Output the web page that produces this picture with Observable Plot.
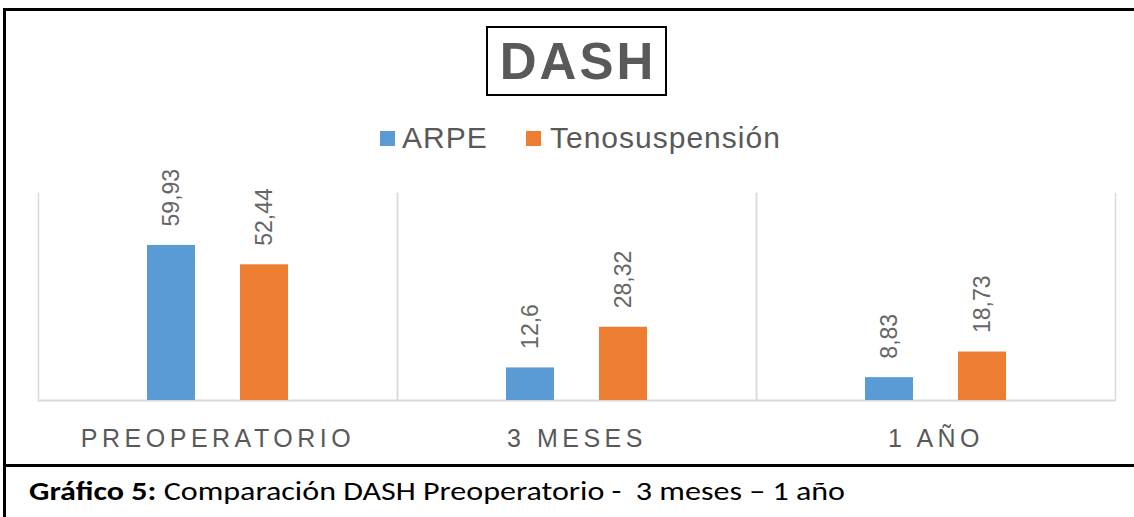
<!DOCTYPE html>
<html>
<head>
<meta charset="utf-8">
<script src="https://cdn.jsdelivr.net/npm/d3@7"></script>
<script src="https://cdn.jsdelivr.net/npm/@observablehq/plot@0.6"></script>
<style>
  html, body { margin: 0; padding: 0; background: #fff; }
  #wrap { position: relative; width: 1134px; height: 517px; overflow: hidden; background: #fff; font-family: "Liberation Sans", Arial, sans-serif; }
  #frameBox { position: absolute; left: 3px; top: 8px; width: 1140px; height: 520px; border-left: 3px solid #000; border-top: 3px solid #000; box-sizing: border-box; }
  #sep { position: absolute; left: 3px; top: 464px; width: 1140px; height: 3px; background: #000; }
  #title { position: absolute; left: 486px; top: 26px; width: 181px; height: 70px; border: 2px solid #000; box-sizing: border-box;
           text-align: center; font-weight: bold; font-size: 51px; line-height: 66px; padding-top: 1px; padding-left: 3px; letter-spacing: 3px; color: #595959; }
  .sw { position: absolute; width: 15px; height: 15px; top: 131px; }
  .lg { position: absolute; font-size: 30px; line-height: 30px; top: 123px; color: #595959; white-space: nowrap; letter-spacing: 1px; }
  #chart { position: absolute; left: 0; top: 180px; }
  #caption { position: absolute; left: 29px; top: 477px; font-size: 27px; line-height: 27px; color: #000; white-space: nowrap;
             font-family: Carlito, Lato, "Open Sans", sans-serif; transform-origin: 0 0; }
  #chart svg [aria-label^="fx-axis"] text { letter-spacing: 4.5px; }
</style>
</head>
<body>
<div id="wrap">
  <div id="frameBox"></div>
  <div id="title">DASH</div>
  <div id="legend"></div>
  <div id="chart"></div>
  <div id="sep"></div>
  <div id="caption"><b>Gráfico 5:</b> Comparación DASH Preoperatorio -&nbsp; 3 meses – 1 año</div>
</div>
<script>
const categories = ["PREOPERATORIO", "3 MESES", "1 AÑO"];
const series = ["ARPE", "Tenosuspensión"];
const arpeValues = [59.93, 12.6, 8.83];
const tenoValues = [52.44, 28.32, 18.73];
const colors = ["#5B9BD5", "#ED7D31"];

const data = categories.flatMap((c, i) => [
  {cat: c, serie: series[0], value: arpeValues[i]},
  {cat: c, serie: series[1], value: tenoValues[i]}
]);
const fmt = v => String(v).replace(".", ",");

// legend
const legend = document.getElementById("legend");
const legendPos = [{sw: 380, tx: 402}, {sw: 526, tx: 550}];
series.forEach((s, i) => {
  const sw = document.createElement("div");
  sw.className = "sw"; sw.style.left = legendPos[i].sw + "px"; sw.style.background = colors[i];
  legend.appendChild(sw);
  const t = document.createElement("div");
  t.className = "lg"; t.style.left = legendPos[i].tx + "px"; t.textContent = s;
  legend.appendChild(t);
});

const chart = Plot.plot({
  width: 1134,
  height: 280,
  marginTop: 13,
  marginBottom: 60,
  marginLeft: 37,
  marginRight: 19,
  style: {fontFamily: "'Liberation Sans', Arial, sans-serif", fontSize: "25px", color: "#595959", background: "transparent", overflow: "visible"},
  fx: {domain: categories, padding: 0, label: null, axis: "bottom", tickSize: 0, tickPadding: 29},
  x: {domain: series, paddingInner: 0.484, paddingOuter: 1.172, axis: null},
  y: {domain: [0, 80], axis: null},
  color: {domain: series, range: colors},
  marks: [
    Plot.frame({anchor: "left", stroke: "#d9d9d9", strokeWidth: 1.5}),
    Plot.frame({anchor: "right", stroke: "#d9d9d9", strokeWidth: 1.5}),
    Plot.ruleY([0], {stroke: "#d9d9d9", strokeWidth: 2}),
    Plot.barY(data, {fx: "cat", x: "serie", y: "value", fill: "serie"}),
    Plot.text(data, {fx: "cat", x: "serie", y: "value", text: d => fmt(d.value), rotate: -90, textAnchor: "start",
                     dy: -19, fontSize: 23, fill: "#666666"})
  ]
});
document.getElementById("chart").appendChild(chart);

// fit caption width to reference
const cap = document.getElementById("caption");
const w = cap.getBoundingClientRect().width;
cap.style.transform = `scaleX(${816 / w})`;
</script>
</body>
</html>
